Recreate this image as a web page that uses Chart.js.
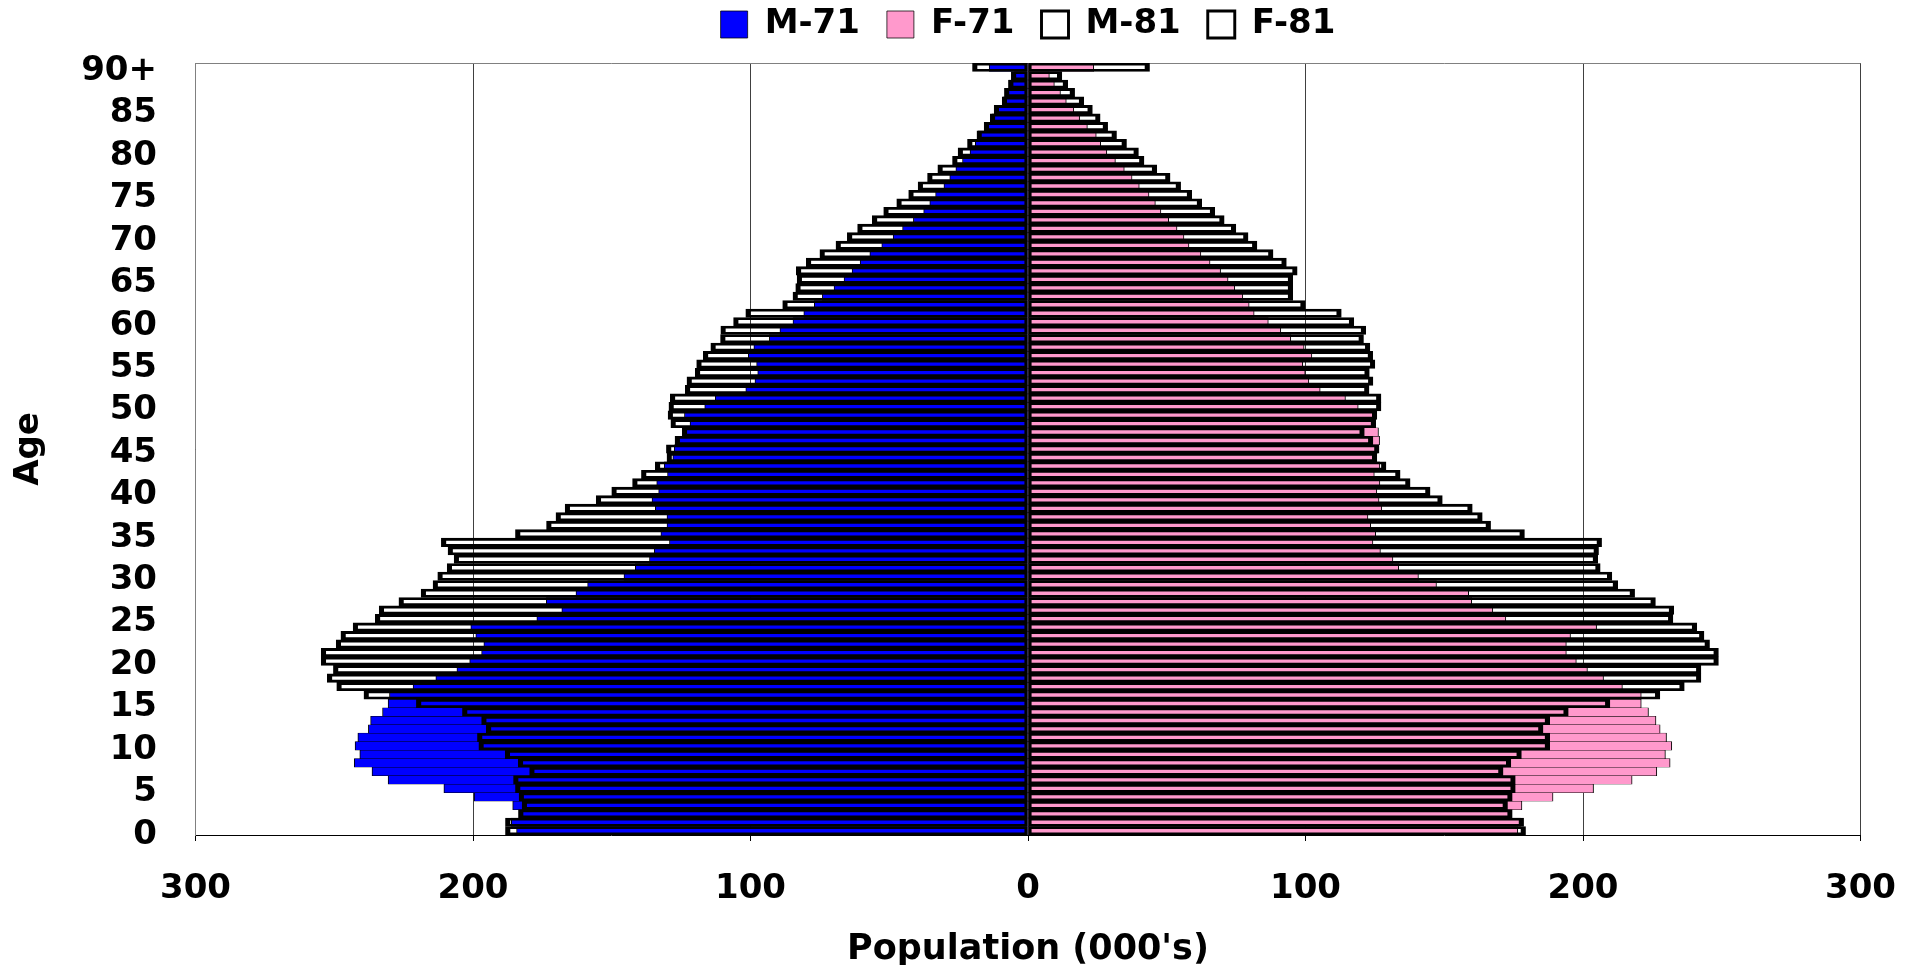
<!DOCTYPE html>
<html><head><meta charset="utf-8">
<script src="https://cdn.jsdelivr.net/npm/chart.js@4.4.1/dist/chart.umd.min.js"></script>
<style>html,body{margin:0;padding:0;background:#fff;}canvas{display:block;}</style>
</head><body>
<canvas id="c" width="1920" height="965"></canvas>
<script>
// ---- data (age 0 ... 90+), population in thousands ----
const ageLabels = ['0','1','2','3','4','5','6','7','8','9','10','11','12','13','14','15','16','17','18','19',
 '20','21','22','23','24','25','26','27','28','29','30','31','32','33','34','35','36','37','38','39',
 '40','41','42','43','44','45','46','47','48','49','50','51','52','53','54','55','56','57','58','59',
 '60','61','62','63','64','65','66','67','68','69','70','71','72','73','74','75','76','77','78','79',
 '80','81','82','83','84','85','86','87','88','89','90+'];
const yTickLabels = ['0','5','10','15','20','25','30','35','40','45','50','55','60','65','70','75','80','85','90+'];
const xTickValues = [-300,-200,-100,0,100,200,300];

const male1971 = [184.3,186.2,183.5,185.7,199.6,210.5,230.6,236.4,242.8,240.8,
 242.5,241.5,237.7,236.9,232.6,230.6,230.1,221.6,213.4,205.8,
 201.2,196.9,196.1,199,200.8,177,168,173.6,162.9,158.7,
 145.6,141.5,136.4,134.7,129.2,132.3,130.1,130.1,134.3,135.5,
 133.1,133.8,129.9,131.1,128,127.5,125.8,124.5,121.8,123.8,
 116.5,112.7,101.7,98.4,97.4,97.8,100.8,98.8,93.2,89.4,
 84.7,80.8,77,74.1,69.9,66.3,63.4,60.5,57,52.7,
 48.6,45.2,41.3,37.6,35.4,33.3,30.3,28.2,26,23.6,
 20.9,19,18,15.5,13,11,9,8,7,5,14];
const female1971 = [176.5,177.5,174,178,189.2,203.8,217.7,226.6,231.4,229.7,
 232,230.1,227.8,226.3,223.6,221,221,214.2,207.4,201.6,
 197.6,194,194,195.5,204.9,172.2,167.5,159.9,158.8,147.2,
 140.7,133.6,131.5,127,124.3,125.3,123.5,122.5,127.5,126.5,
 125.7,126.8,124.8,126.8,125,126,126.7,126.3,124.5,125,
 119,114.4,105.3,101.2,99.9,99,102.3,99.5,94.7,91.1,
 86.6,81.5,79.7,77.4,74.5,72.1,69.4,65.6,62.3,58,
 56.2,53.7,50.7,47.9,45.9,43.6,40.1,37.5,34.7,31.5,
 28.4,26.2,24.6,21.4,18.6,16.5,13.8,11.7,9.5,7.7,23.7];
const male1981 = [188.3,188.3,183.6,182.3,183.4,184.7,185.4,179.6,183.7,188.4,
 197.9,198.4,195.2,196.9,203.8,220.4,239.3,249.1,252.5,250.3,
 254.7,254.7,249.3,247.6,243.2,235.2,233.8,226.7,218.7,214.4,
 212.7,209.3,206.8,209,211.4,184.7,173.5,170.1,166.8,155.6,
 150,142.5,139.3,134.3,130.1,130.3,127.2,124.6,128.7,129.7,
 129.4,128.9,123.5,122.9,119.9,119.4,117,114.3,110.8,110.7,
 106.1,101.7,88.4,84.7,83.7,83.2,83.5,79.9,75,69.2,
 65.1,61.4,56.1,52,47.3,43,39.6,36.2,32.5,27.2,
 25.2,21.8,18.4,15.8,13.6,12.2,9.3,8.5,7,6,20];
const female1981 = [179.3,178.6,174.5,172.8,174.5,175.6,175.6,171.2,174,177.8,
 188,188,185.6,188,194.7,209.7,227.7,236.5,242.5,242.5,
 248.8,248.8,245.6,243.6,241,232.4,232.7,226.1,218.6,212.5,
 210.4,206.2,205.3,205.6,206.7,178.9,166.7,163.7,160.1,149.3,
 144.9,137.7,134.1,129,125.7,126.5,124.3,121.2,125.3,125.7,
 127.2,127.2,122.9,124.3,123,125,124.2,123.2,120.9,121.7,
 117.4,112.9,99.9,95.4,95.4,95.4,97,93.1,88.3,82.5,
 79.3,74.9,70.7,67.3,62.6,59,55,51.2,46.4,41.8,
 39.8,35.5,31.9,28.7,26,23.2,20.1,16.8,14.3,12.2,43.8];

Chart.defaults.font.family = '"DejaVu Sans", sans-serif';
Chart.defaults.font.weight = 'bold';
Chart.defaults.color = '#000';

const legendTweak = {
  id: 'legendTweak',
  beforeInit(chart) {
    const lg = chart.legend;
    if (!lg) return;
    const fit = lg.fit;
    lg.fit = function () { fit.call(this); this.height = 63; };
    const draw = lg.draw;
    lg.draw = function () {
      const t = this.top, b = this.bottom;
      this.top = t - 19.5; this.bottom = b + 40;
      draw.call(this);
      this.top = t; this.bottom = b;
    };
  }
};
const frameTop = {
  id: 'frameTop',
  beforeDatasetsDraw(chart) {
    const {ctx, chartArea: a} = chart;
    ctx.save();
    ctx.strokeStyle = '#808080';
    ctx.lineWidth = 1;
    ctx.beginPath();
    ctx.moveTo(a.left, Math.round(a.top) + 0.5);
    ctx.lineTo(a.right, Math.round(a.top) + 0.5);
    ctx.stroke();
    ctx.restore();
  }
};

const neg = arr => arr.map(v => -v);
const thin = {left: 1, right: 1, top: 0.5, bottom: 0.5};

new Chart(document.getElementById('c'), {
  type: 'bar',
  data: {
    labels: ageLabels,
    datasets: [
      {label: 'M-71', data: neg(male1971), backgroundColor: '#0000FF', borderColor: '#000', borderWidth: thin, grouped: false, order: 1, categoryPercentage: 1, barPercentage: 1},
      {label: 'F-71', data: female1971, backgroundColor: '#FF99CC', borderColor: '#000', borderWidth: thin, grouped: false, order: 1, categoryPercentage: 1, barPercentage: 1},
      {label: 'M-81', data: neg(male1981), backgroundColor: 'rgba(0,0,0,0)', borderColor: '#000', borderWidth: {left: 4.5, right: 2.75, top: 2.25, bottom: 2.25}, borderSkipped: false, grouped: false, order: 0, categoryPercentage: 1, barPercentage: 1},
      {label: 'F-81', data: female1981, backgroundColor: 'rgba(0,0,0,0)', borderColor: '#000', borderWidth: {left: 2.75, right: 4.5, top: 2.25, bottom: 2.25}, borderSkipped: false, grouped: false, order: 0, categoryPercentage: 1, barPercentage: 1}
    ]
  },
  options: {
    indexAxis: 'y',
    responsive: false,
    devicePixelRatio: 1,
    animation: false,
    layout: {padding: {left: 0, right: 59.5, top: 0, bottom: 0}},
    plugins: {
      tooltip: {enabled: false},
      legend: {
        position: 'top',
        fullSize: false,
        labels: {
          boxWidth: 27, boxHeight: 27, padding: 27,
          font: {size: 34, weight: 'bold'}, color: '#000',
          sort: (a, b) => a.datasetIndex - b.datasetIndex
        }
      }
    },
    scales: {
      x: {
        type: 'linear',
        min: -300, max: 300,
        afterBuildTicks: s => { s.ticks = xTickValues.map(v => ({value: v})); },
        afterFit: s => { s.height = 130; },
        ticks: {
          font: {size: 34, weight: 'bold', lineHeight: 0.85}, color: '#000', padding: 5,
          callback: v => ['', String(Math.abs(v))]
        },
        grid: {color: '#404040', lineWidth: 1, drawTicks: true, tickLength: 6, tickColor: '#000'},
        border: {display: true, color: '#000', width: 1},
        title: {display: true, text: "Population (000's)", font: {size: 35, weight: 'bold'}, color: '#000', padding: {top: 0, bottom: -6}}
      },
      y: {
        type: 'category',
        reverse: true,
        afterFit: s => { s.width = 195.5; },
        ticks: {
          autoSkip: false,
          font: {size: 34, weight: 'bold', lineHeight: 0.235}, color: '#000', padding: 38.5,
          callback: function (v) { const l = this.getLabelForValue(v); return yTickLabels.includes(l) ? ['', l] : ''; }
        },
        grid: {display: true, drawOnChartArea: false, drawTicks: false},
        border: {display: true, color: '#808080', width: 1},
        title: {display: true, text: 'Age', font: {size: 34, weight: 'bold'}, color: '#000', padding: {top: 9, bottom: 0}}
      }
    }
  },
  plugins: [legendTweak, frameTop]
});
</script>
</body></html>
